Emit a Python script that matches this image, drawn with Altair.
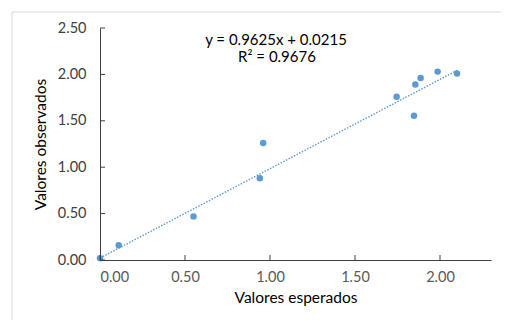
import altair as alt
import pandas as pd

# Data
esperados = [0.00, 0.11, 0.55, 0.94, 0.96, 1.745, 1.847, 1.855, 1.886, 1.986, 2.10]
observados = [0.02, 0.16, 0.47, 0.88, 1.26, 1.76, 1.555, 1.89, 1.96, 2.03, 2.01]
slope = 0.9625
intercept = 0.0215
trend_x = [0.0, 2.10]
x_ticks = [0.0, 0.5, 1.0, 1.5, 2.0]
y_ticks = [0.0, 0.5, 1.0, 1.5, 2.0, 2.5]
eq_lines = ["y = 0.9625x + 0.0215", "R² = 0.9676"]

W, H = 391, 232
FONT = "Lato"
BLUE = "#5B9BD5"

pts = pd.DataFrame({"x": esperados, "y": observados})
trend = pd.DataFrame({"x": trend_x, "y": [slope * v + intercept for v in trend_x]})
xt = pd.DataFrame({"v": x_ticks})
yt = pd.DataFrame({"v": y_ticks})

xs = alt.Scale(domain=[0, 2.3], nice=False, zero=False)
ys = alt.Scale(domain=[0, 2.5], nice=False, zero=False)

x_axis = alt.Axis(values=x_ticks, format=".2f", tickSize=0, labelPadding=10,
                  grid=False, domainColor="#404040", labelColor="#595959",
                  labelFont=FONT, labelFontSize=14.5, title="Valores esperados",
                  titleFont=FONT, titleFontSize=15.5, titleFontWeight="normal",
                  titleColor="#000000", titlePadding=7, zindex=1)
y_axis = alt.Axis(values=y_ticks, format=".2f", tickSize=0, labelPadding=14,
                  grid=False, domainColor="#404040", labelColor="#404040",
                  labelFont=FONT, labelFontSize=14.5, title="Valores observados",
                  titleFont=FONT, titleFontSize=15.5, titleFontWeight="normal",
                  titleColor="#000000", titlePadding=9, zindex=1)

border = alt.Chart(pd.DataFrame({"a": [0]})).mark_rect(
    fill="transparent", stroke="#d9d9d9", strokeWidth=1
).encode(x=alt.value(-88), x2=alt.value(402), y=alt.value(-16), y2=alt.value(305))

points = alt.Chart(pts).mark_circle(size=42, color=BLUE, opacity=1).encode(
    x=alt.X("x:Q", scale=xs, axis=x_axis),
    y=alt.Y("y:Q", scale=ys, axis=y_axis),
)

line = alt.Chart(trend).mark_line(color=BLUE, strokeWidth=1.4, strokeDash=[1.5, 1.5]).encode(
    x=alt.X("x:Q", scale=xs), y=alt.Y("y:Q", scale=ys)
)

xticks = alt.Chart(xt).mark_rule(color="#404040").encode(
    x=alt.X("v:Q", scale=xs), y=alt.value(H), y2=alt.value(H - 5)
)
yticks = alt.Chart(yt).mark_rule(color="#404040").encode(
    y=alt.Y("v:Q", scale=ys), x=alt.value(0), x2=alt.value(5)
)

text1 = alt.Chart(pd.DataFrame({"t": [eq_lines[0]]})).mark_text(
    font=FONT, fontSize=15, color="#000000", align="center", baseline="middle"
).encode(text="t:N", x=alt.value(176), y=alt.value(12))
text2 = alt.Chart(pd.DataFrame({"t": [eq_lines[1]]})).mark_text(
    font=FONT, fontSize=15, color="#000000", align="center", baseline="middle"
).encode(text="t:N", x=alt.value(177), y=alt.value(29))

chart = alt.layer(border, line, points, xticks, yticks, text1, text2).properties(
    width=W, height=H,
    padding={"left": 92, "top": 20, "right": 10, "bottom": 60},
    autosize=alt.AutoSizeParams(type="none"),
).configure_view(stroke=None)

chart.save("out.html", embed_options={"renderer": "svg", "actions": False})
